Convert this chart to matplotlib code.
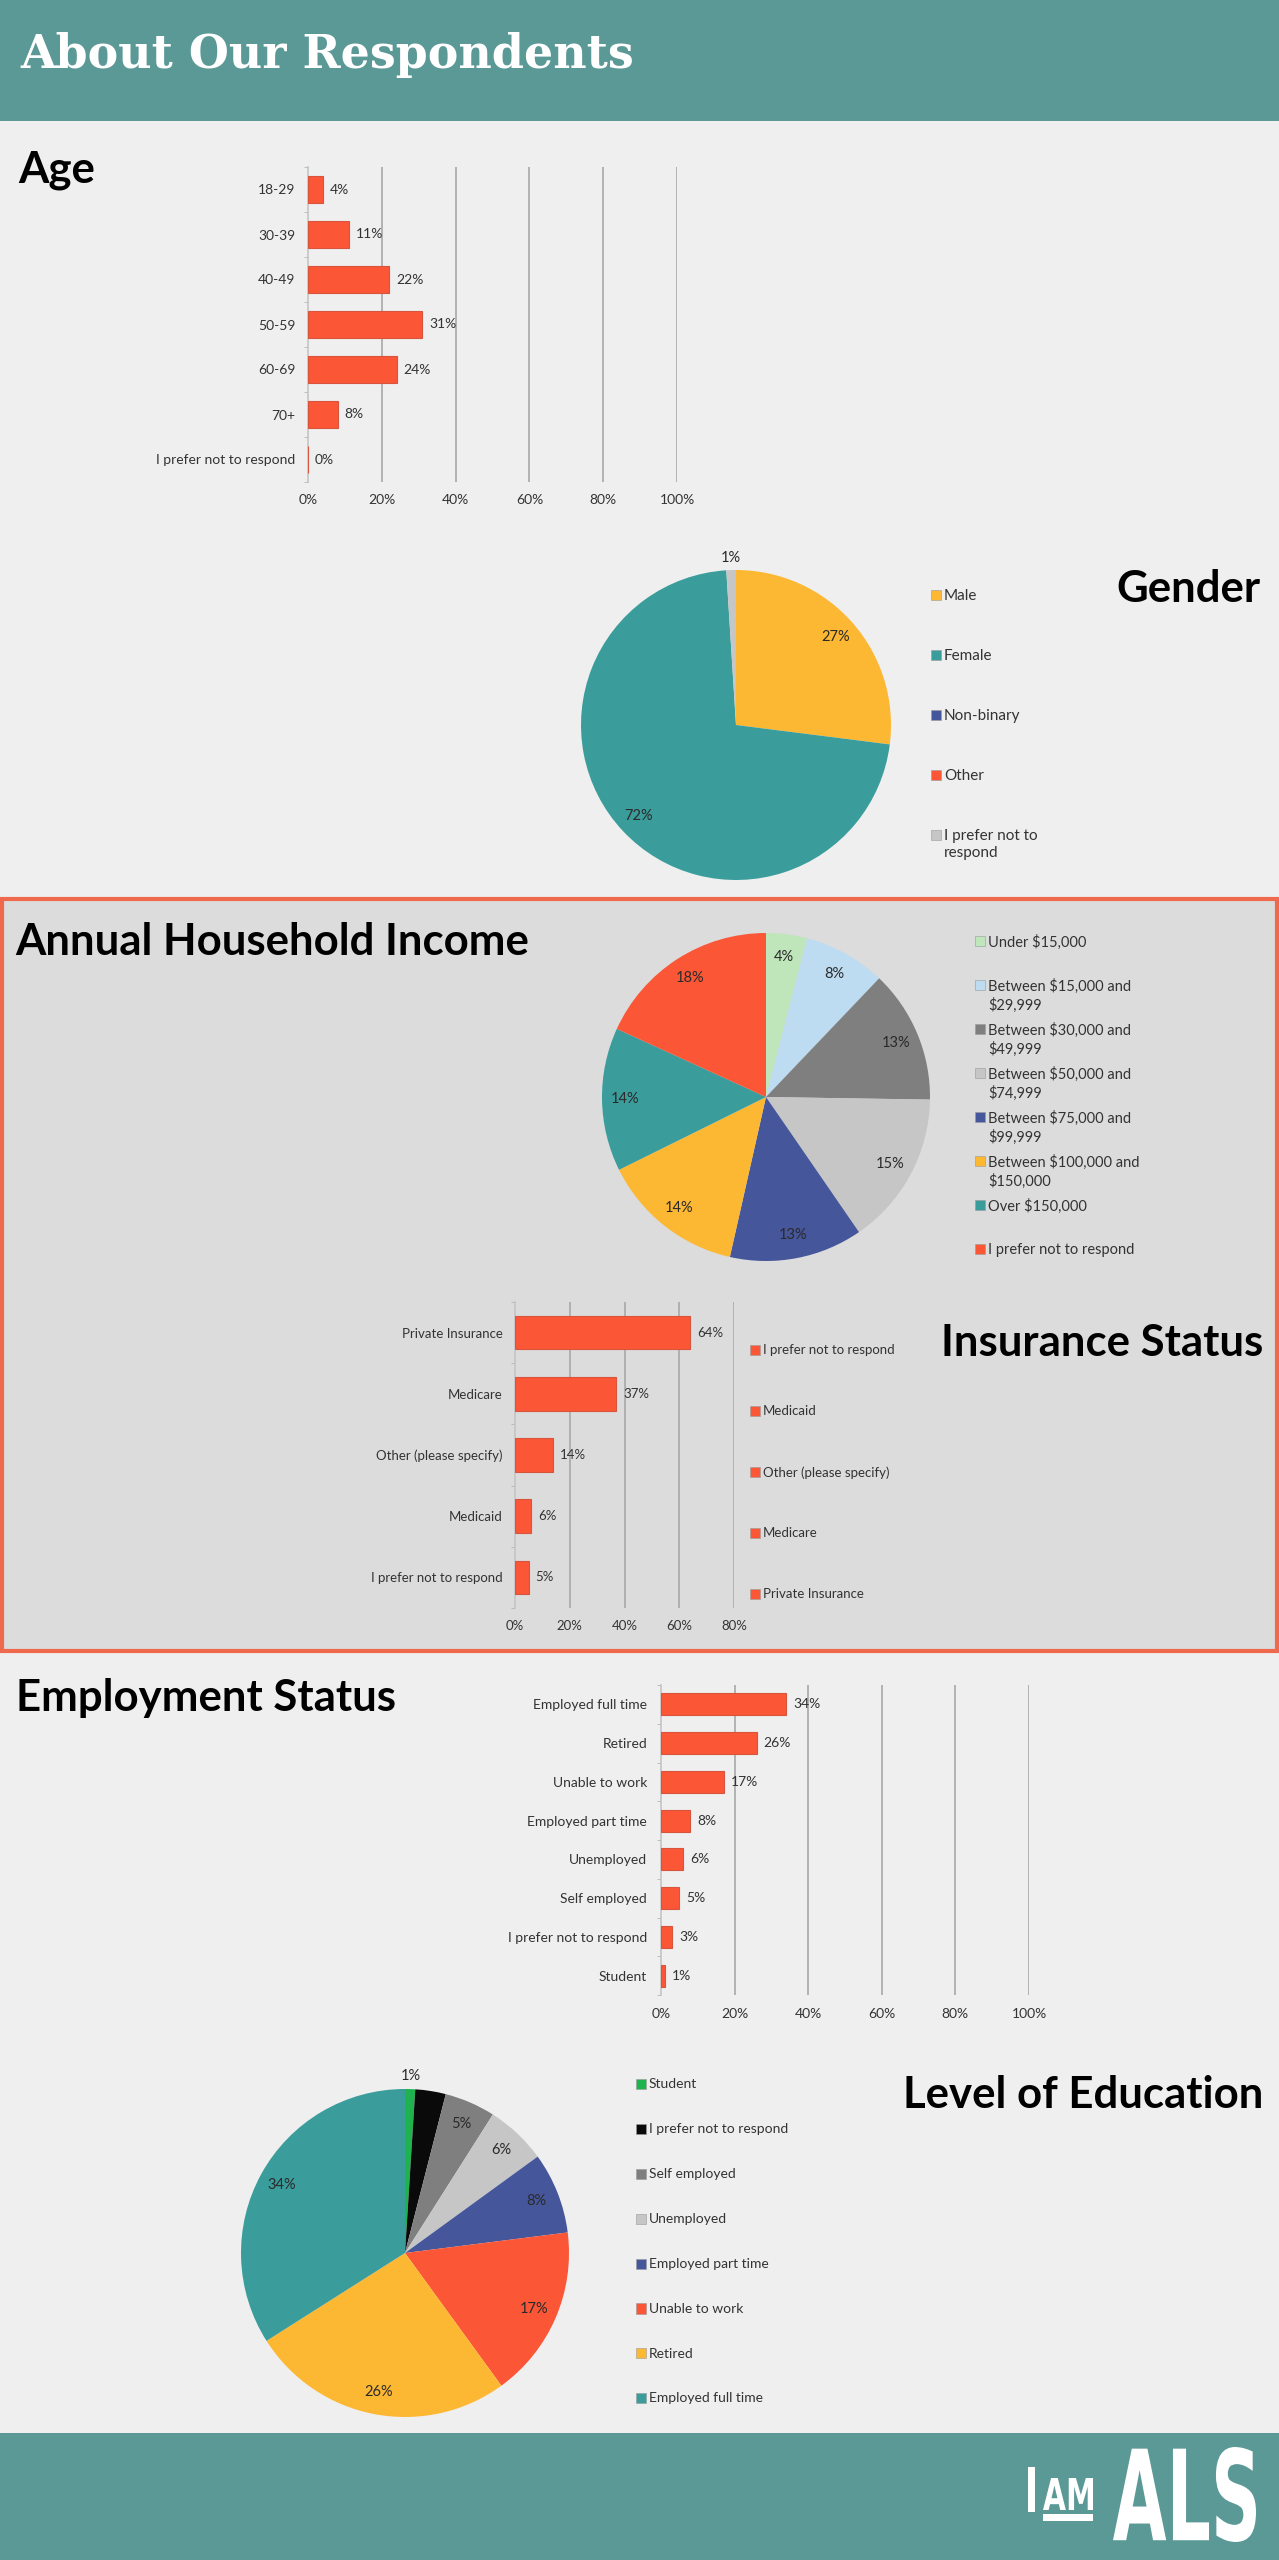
import numpy as np
import matplotlib
matplotlib.use("Agg")
import matplotlib.pyplot as plt
from matplotlib.patches import Rectangle, PathPatch
from matplotlib.textpath import TextPath
from matplotlib.font_manager import FontProperties
from matplotlib.transforms import offset_copy, Affine2D

plt.rcParams['font.family'] = ['Lato', 'DejaVu Sans']

# ---- data ----
age_cats = ["18-29", "30-39", "40-49", "50-59", "60-69", "70+", "I prefer not to respond"]
age_vals = [4, 11, 22, 31, 24, 8, 0]

gender_cats = ["Male", "Female", "Non-binary", "Other", "I prefer not to\nrespond"]
gender_vals = [27, 72, 0, 0, 1]
gender_labels = ["27%", "72%", "", "", "1%"]

income_cats = ["Under $15,000", "Between $15,000 and\n$29,999", "Between $30,000 and\n$49,999",
               "Between $50,000 and\n$74,999", "Between $75,000 and\n$99,999",
               "Between $100,000 and\n$150,000", "Over $150,000", "I prefer not to respond"]
income_vals = [4, 8, 13, 15, 13, 14, 14, 18]
income_labels = ["4%", "8%", "13%", "15%", "13%", "14%", "14%", "18%"]

insurance_cats = ["Private Insurance", "Medicare", "Other (please specify)", "Medicaid",
                  "I prefer not to respond"]
insurance_vals = [64, 37, 14, 6, 5]
insurance_legend = ["I prefer not to respond", "Medicaid", "Other (please specify)", "Medicare",
                    "Private Insurance"]

employment_cats = ["Employed full time", "Retired", "Unable to work", "Employed part time",
                   "Unemployed", "Self employed", "I prefer not to respond", "Student"]
employment_vals = [34, 26, 17, 8, 6, 5, 3, 1]

education_cats = ["Student", "I prefer not to respond", "Self employed", "Unemployed",
                  "Employed part time", "Unable to work", "Retired", "Employed full time"]
education_vals = [1, 3, 5, 6, 8, 17, 26, 34]
education_labels = ["1%", "", "5%", "6%", "8%", "17%", "26%", "34%"]

# ---- colours ----
TEAL_BAND = '#5b9997'
BG = '#efefef'
BOX = '#dcdcdc'
BOX_EDGE = '#ef6a4d'
BAR = '#fb5636'
BAR_EDGE = '#d8553d'
GRID = '#adadad'
TXT = '#333333'
teal = '#3a9d9b'; yellow = '#fdb833'; blue = '#45569b'; red = '#fb5636'
lgray = '#c6c6c6'; gray = '#7f7f7f'

gender_colors = [yellow, teal, blue, red, lgray]
income_colors = ['#bfe6bb', '#bddcf1', gray, lgray, blue, yellow, teal, red]
education_colors = ['#1fb34f', '#0a0a0a', gray, lgray, blue, red, yellow, teal]

W, H = 1279, 2560
fig = plt.figure(figsize=(W / 100, H / 100), dpi=100)
fig.patch.set_facecolor(BG)


def px_axes(x0, y0, x1, y1):
    return fig.add_axes([x0 / W, 1 - y1 / H, (x1 - x0) / W, (y1 - y0) / H])


def px_rect(x0, y0, x1, y1, **kw):
    fig.patches.append(Rectangle((x0 / W, 1 - y1 / H), (x1 - x0) / W, (y1 - y0) / H,
                                 transform=fig.transFigure, **kw))


# background bands (behind everything)
px_rect(0, 0, W, 121, facecolor=TEAL_BAND, edgecolor='none', zorder=-5)
px_rect(0, 2433, W, H, facecolor=TEAL_BAND, edgecolor='none', zorder=-5)
px_rect(2, 899, W - 2, 1651, facecolor=BOX, edgecolor=BOX_EDGE, linewidth=3, zorder=-5)

fig.text(20 / W, 1 - 68 / H, "About Our Respondents", color='white', fontsize=33,
         family='DejaVu Serif', weight='bold', va='baseline')


def title(x, y, s, ha='left'):
    fig.text(x / W, 1 - y / H, s, fontsize=31.5, weight='bold', color='black', ha=ha, va='baseline')


title(18, 182, "Age")
title(1261, 602, "Gender", ha='right')
title(15, 955, "Annual Household Income")
title(1263, 1356, "Insurance Status", ha='right')
title(16, 1711, "Employment Status")
title(1263, 2108, "Level of Education", ha='right')


def bar_chart(ax, cats, vals, xmax, height, fs, ypad):
    n = len(cats)
    y = np.arange(n)
    ax.barh(y, vals, height=height, color=BAR, edgecolor=BAR_EDGE, linewidth=0.8, zorder=3)
    ax.set_ylim(n - 0.5, -0.5)
    ax.set_xlim(0, xmax)
    ax.set_yticks(y)
    ax.set_yticklabels(cats, fontsize=fs, color=TXT)
    ax.set_yticks(np.arange(-0.5, n), minor=True)
    ax.tick_params(axis='y', which='major', length=0, pad=ypad)
    ax.tick_params(axis='y', which='minor', length=3, color='#b5b5b5')
    ticks = np.arange(0, xmax + 1, 20)
    ax.set_xticks(ticks)
    ax.set_xticklabels([f"{t}%" for t in ticks], fontsize=fs, color=TXT)
    ax.tick_params(axis='x', length=0, pad=9)
    for t in ticks[1:]:
        ax.axvline(t, color=GRID, lw=1.3, zorder=1)
    for s in ['top', 'right', 'bottom']:
        ax.spines[s].set_visible(False)
    ax.spines['left'].set_color('#c4c4c4')
    ax.spines['left'].set_linewidth(1.2)
    ax.patch.set_alpha(0)
    for yi, v in zip(y, vals):
        ax.annotate(f"{v}%", (v, yi), xytext=(5, 0), textcoords='offset points',
                    va='center', ha='left', fontsize=fs, color=TXT)


def pie_chart(ax, vals, colors, labels):
    wedges, _ = ax.pie(vals, colors=colors, startangle=90, counterclock=False, radius=1,
                       wedgeprops=dict(linewidth=0))
    for w, lab, v in zip(wedges, labels, vals):
        if not lab:
            continue
        ang = np.deg2rad((w.theta1 + w.theta2) / 2)
        d = 1.08 if v <= 1 else 0.86
        ax.text(d * np.cos(ang), d * np.sin(ang), lab, ha='center', va='center',
                fontsize=10.5, color='#2a2a2a')
    ax.set_xlim(-1, 1)
    ax.set_ylim(-1, 1)
    ax.axis('off')


def legend_block(x_sw, x_txt, y_first, dy, labels, colors, fs):
    n = len(labels)
    ax = px_axes(x_sw, y_first, x_sw + 300, y_first + dy * (n - 1))
    ax.set_xlim(0, 300)
    ax.set_ylim(n - 1, 0)
    ax.axis('off')
    idx = np.arange(n)
    ax.scatter(np.zeros(n), idx, marker='s', s=52, c=colors, edgecolors='#9a9a9a',
               linewidths=0.4, clip_on=False)
    tr = offset_copy(ax.transData, fig=fig, y=0.42 * fs, units='points')
    for i, lab in zip(idx, labels):
        ax.text(x_txt - x_sw, i, lab, va='top', ha='left', fontsize=fs, color=TXT,
                transform=tr, linespacing=1.3, clip_on=False)


def esc(s):
    return s.replace('$', r'\$')


# Age
ax = px_axes(308, 167, 677, 482)
bar_chart(ax, age_cats, age_vals, 100, 0.6, 10, 9)

# Gender
ax = px_axes(736 - 155, 725 - 155, 736 + 155, 725 + 155)
pie_chart(ax, gender_vals, gender_colors, gender_labels)
legend_block(936, 944, 595, 60, gender_cats, gender_colors, 11)

# Income
ax = px_axes(766 - 164, 1097 - 164, 766 + 164, 1097 + 164)
pie_chart(ax, income_vals, income_colors, income_labels)
legend_block(980, 988, 941, 44, [esc(c) for c in income_cats], income_colors, 10.5)

# Insurance
ax = px_axes(515, 1302, 734, 1608)
bar_chart(ax, insurance_cats, insurance_vals, 80, 0.55, 9.5, 9)
legend_block(755, 763, 1350, 61, insurance_legend, [BAR] * len(insurance_legend), 9.5)

# Employment
ax = px_axes(661, 1685, 1029, 1995)
bar_chart(ax, employment_cats, employment_vals, 100, 0.57, 10, 10)

# Education
ax = px_axes(405 - 164, 2253 - 164, 405 + 164, 2253 + 164)
pie_chart(ax, education_vals, education_colors, education_labels)
legend_block(641, 649, 2084, 44.9, education_cats, education_colors, 10)


# footer logo
def logo_text(s, x0, y0, x1, y1, weight='bold'):
    tp = TextPath((0, 0), s, size=100, prop=FontProperties(family='DejaVu Sans', weight=weight))
    bb = tp.get_extents()
    sx = (x1 - x0) / bb.width
    sy = (y1 - y0) / bb.height
    t = Affine2D().translate(-bb.x0, -bb.y0).scale(sx / W, sy / H).translate(x0 / W, 1 - y1 / H)
    fig.patches.append(PathPatch(t.transform_path(tp), facecolor='white', edgecolor='none',
                                 transform=fig.transFigure))


logo_text("ALS", 1113, 2447, 1256, 2542)
logo_text("I", 1028, 2467, 1035, 2512)
logo_text("AM", 1043, 2478, 1093, 2510)
px_rect(1043, 2514, 1093, 2521, facecolor='white', edgecolor='none')

fig.savefig("out.png", dpi=100, facecolor=fig.get_facecolor())
